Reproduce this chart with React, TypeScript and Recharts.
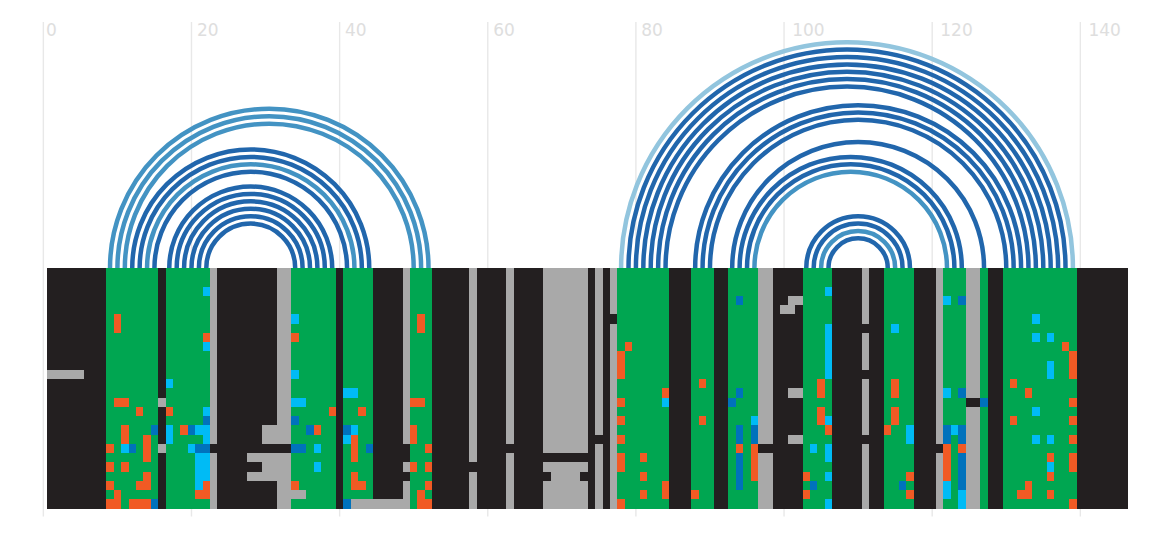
import { ScatterChart, Scatter, XAxis, YAxis, CartesianGrid } from 'recharts'

const WIDTH = 1168
const HEIGHT = 536
const X_MAX = 146.5
const PX_PER_COL = 7.407
const PX_PER_ROW = 9.255
const MARGIN = { top: 22, right: WIDTH - 43.35 - X_MAX * PX_PER_COL, bottom: 19.5, left: 43.35 }
// row 0 starts at the baseline of the arcs, y = 268
const Y_MIN = -246 / PX_PER_ROW
const Y_MAX = (HEIGHT - MARGIN.bottom - 268) / PX_PER_ROW

const COL_COUNT = 146
const ROW_COUNT = 26
const X_TICKS = [0, 20, 40, 60, 80, 100, 120, 140]

const COLORS: Record<string, string> = {
  black: '#231f20',
  green: '#00a651',
  gray: '#a9a9a9',
  orange: '#f15a24',
  blue: '#0072bc',
  cyan: '#00bbf5',
}

// whole columns [first, last]
const greenColumns = [[9, 15], [17, 22], [34, 39], [41, 44], [50, 52], [78, 84], [88, 90], [93, 96], [103, 106], [114, 117], [122, 124], [127, 127], [130, 139]]
const grayColumns = [[23, 23], [32, 33], [49, 49], [58, 58], [63, 63], [68, 73], [75, 75], [77, 77], [97, 98], [111, 111], [121, 121], [125, 126]]

// single cells and short runs [col, firstRow, lastRow]
const blackCells = [
  [23, 19, 19], [32, 19, 19], [33, 19, 19], [49, 19, 20], [49, 22, 22], [58, 21, 21], [63, 19, 19],
  [68, 20, 20], [69, 20, 20], [70, 20, 20], [71, 20, 20], [72, 20, 20], [73, 20, 20], [68, 22, 22], [73, 22, 22],
  [75, 18, 18], [77, 5, 5], [97, 19, 19], [98, 19, 19], [111, 6, 6], [111, 11, 11], [111, 18, 18],
  [121, 19, 19], [125, 14, 14], [126, 14, 14],
]
const grayCells = [
  [1, 11, 11], [2, 11, 11], [3, 11, 11], [4, 11, 11], [5, 11, 11], [16, 14, 14], [16, 19, 19],
  [30, 17, 18], [31, 17, 18], [28, 20, 20], [29, 20, 20], [30, 20, 22], [31, 20, 22], [28, 22, 22], [29, 22, 22],
  [34, 24, 24], [35, 24, 24], [42, 25, 25], [43, 25, 25], [44, 25, 25], [45, 25, 25], [46, 25, 25], [47, 25, 25], [48, 25, 25],
  [101, 3, 4], [102, 3, 3], [100, 4, 4], [101, 13, 13], [102, 13, 13], [101, 18, 18], [102, 18, 18],
]
const orangeCells = [
  [10, 5, 6], [22, 7, 7], [10, 14, 14], [11, 14, 14], [13, 15, 15], [17, 15, 15], [11, 17, 18], [19, 17, 17],
  [14, 18, 20], [9, 19, 19], [9, 21, 21], [11, 21, 21], [14, 22, 23], [9, 23, 23], [13, 23, 23], [22, 23, 24],
  [10, 24, 25], [21, 24, 24], [9, 25, 25], [12, 25, 25], [13, 25, 25], [14, 25, 25],
  [51, 5, 6], [34, 7, 7], [50, 14, 14], [51, 14, 14], [39, 15, 15], [43, 15, 15], [37, 17, 17], [50, 17, 18],
  [42, 18, 20], [52, 19, 19], [50, 21, 21], [52, 21, 21], [42, 22, 23], [43, 23, 23], [34, 23, 23], [52, 23, 23],
  [51, 24, 25], [52, 25, 25],
  [79, 8, 8], [78, 9, 11], [84, 13, 13], [78, 14, 14], [78, 16, 16], [78, 18, 18], [78, 20, 21], [81, 20, 20],
  [81, 22, 22], [84, 23, 24], [81, 24, 24], [78, 25, 25],
  [89, 12, 12], [105, 12, 13], [105, 15, 16], [89, 16, 16], [106, 17, 17], [114, 17, 17], [94, 19, 19], [96, 19, 22],
  [103, 22, 22], [103, 24, 24], [88, 24, 24],
  [138, 8, 8], [139, 9, 11], [115, 12, 13], [131, 12, 12], [133, 13, 13], [139, 14, 14], [115, 15, 16], [131, 16, 16],
  [139, 16, 16], [139, 18, 18], [122, 19, 22], [124, 19, 19], [136, 20, 20], [139, 20, 21], [117, 22, 22], [136, 22, 22],
  [133, 23, 24], [132, 24, 24], [117, 24, 24], [136, 24, 24], [139, 25, 25],
]
const blueCells = [
  [22, 16, 16], [15, 17, 17], [20, 17, 17], [12, 19, 19], [21, 19, 19], [22, 19, 19], [15, 25, 25],
  [34, 16, 16], [36, 17, 17], [41, 17, 17], [34, 19, 19], [35, 19, 19], [44, 19, 19], [41, 25, 25],
  [94, 3, 3], [94, 13, 13], [93, 14, 14], [94, 17, 18], [96, 17, 18], [94, 20, 23], [104, 23, 23],
  [124, 3, 3], [124, 13, 13], [127, 14, 14], [122, 17, 18], [124, 17, 18], [124, 20, 23], [116, 23, 23],
]
const cyanCells = [
  [22, 2, 2], [22, 8, 8], [17, 12, 12], [22, 15, 15], [17, 17, 18], [21, 17, 17], [22, 17, 18], [11, 19, 19],
  [20, 19, 19], [21, 20, 23], [22, 20, 22],
  [34, 5, 5], [34, 11, 11], [41, 13, 13], [42, 13, 13], [34, 14, 14], [35, 14, 14], [42, 17, 17], [41, 18, 18],
  [37, 19, 19], [37, 21, 21], [84, 14, 14],
  [106, 2, 2], [106, 6, 11], [96, 16, 16], [106, 16, 16], [104, 19, 19], [106, 19, 20], [106, 22, 22], [106, 25, 25],
  [122, 3, 3], [115, 6, 6], [134, 5, 5], [134, 7, 7], [136, 7, 7], [136, 10, 11], [122, 13, 13], [134, 15, 15],
  [117, 17, 18], [123, 17, 17], [134, 18, 18], [136, 18, 18], [136, 21, 21], [122, 23, 24], [124, 24, 25],
]

// arcs as [start, end] column pairs
const darkArcs = [
  [22, 34], [21, 35], [20, 36], [19, 37], [18, 38], [17, 39], [15, 41], [13, 43], [12, 44],
  [79, 138], [80, 137], [81, 136], [82, 135], [83, 134], [84, 133], [88, 132], [89, 131], [90, 130],
  [93, 127], [94, 124], [95, 123], [103, 117], [104, 116], [106, 114],
]
const midArcs = [[14, 42], [9, 52], [10, 51], [11, 50], [96, 122], [105, 115]]
const lightArcs = [[78, 139]]

function buildCells() {
  const grid: string[][] = []
  for (let c = 0; c <= COL_COUNT; c++) grid.push(new Array(ROW_COUNT).fill('black'))
  const paintColumns = (runs: number[][], state: string) => {
    runs.forEach(([a, b]) => {
      for (let c = a; c <= b; c++) grid[c].fill(state)
    })
  }
  const paintCells = (runs: number[][], state: string) => {
    runs.forEach(([c, a, b]) => {
      for (let r = a; r <= b; r++) grid[c][r] = state
    })
  }
  paintColumns(greenColumns, 'green')
  paintColumns(grayColumns, 'gray')
  paintCells(blackCells, 'black')
  paintCells(grayCells, 'gray')
  paintCells(orangeCells, 'orange')
  paintCells(blueCells, 'blue')
  paintCells(cyanCells, 'cyan')

  const cells: { x: number; y: number; state: string }[] = []
  for (let c = 1; c <= COL_COUNT; c++) {
    for (let r = 0; r < ROW_COUNT; r++) {
      cells.push({ x: c, y: r + 0.5, state: grid[c][r] })
    }
  }
  return cells
}

function buildArcs(pairs: number[][]) {
  return pairs.map(([a, b]) => ({ x: (a + b) / 2, y: 0, radius: (b - a) / 2 }))
}

const cells = buildCells()

const renderCell = (props: any) => (
  <rect
    x={props.cx - PX_PER_COL / 2}
    y={props.cy - PX_PER_ROW / 2}
    width={PX_PER_COL}
    height={PX_PER_ROW}
    fill={COLORS[props.payload.state]}
    shapeRendering="crispEdges"
  />
)

const arcShape = (color: string) => (props: any) => {
  const r = props.payload.radius * PX_PER_COL
  return (
    <path
      d={`M${props.cx - r},${props.cy + 2}L${props.cx - r},${props.cy}A${r},${r} 0 0 1 ${props.cx + r},${props.cy}L${props.cx + r},${props.cy + 2}`}
      fill="none"
      stroke={color}
      strokeWidth={4.5}
    />
  )
}

const renderTick = (props: any) => (
  <text
    x={props.x + 2.7 * String(props.payload.value).length}
    y={36}
    fill="#dedede"
    fontSize={17}
    fontFamily="DejaVu Sans"
  >
    {props.payload.value}
  </text>
)

export default function App() {
  return (
    <div style={{ position: 'absolute', left: 0, top: 0, width: WIDTH, height: HEIGHT }}>
      <ScatterChart width={WIDTH} height={HEIGHT} margin={MARGIN}>
        <CartesianGrid vertical horizontal={false} syncWithTicks stroke="#e8e8e8" strokeWidth={1.4} />
        <XAxis
          dataKey="x"
          type="number"
          orientation="top"
          mirror
          domain={[0, X_MAX]}
          ticks={X_TICKS}
          axisLine={false}
          tickLine={false}
          tick={renderTick}
          interval={0}
        />
        <YAxis dataKey="y" type="number" domain={[Y_MIN, Y_MAX]} reversed hide />
        <Scatter data={buildArcs(lightArcs)} shape={arcShape('#92c5de')} isAnimationActive={false} />
        <Scatter data={buildArcs(midArcs)} shape={arcShape('#4393c3')} isAnimationActive={false} />
        <Scatter data={buildArcs(darkArcs)} shape={arcShape('#2166ac')} isAnimationActive={false} />
        <Scatter data={cells} shape={renderCell} isAnimationActive={false} />
      </ScatterChart>
    </div>
  )
}
